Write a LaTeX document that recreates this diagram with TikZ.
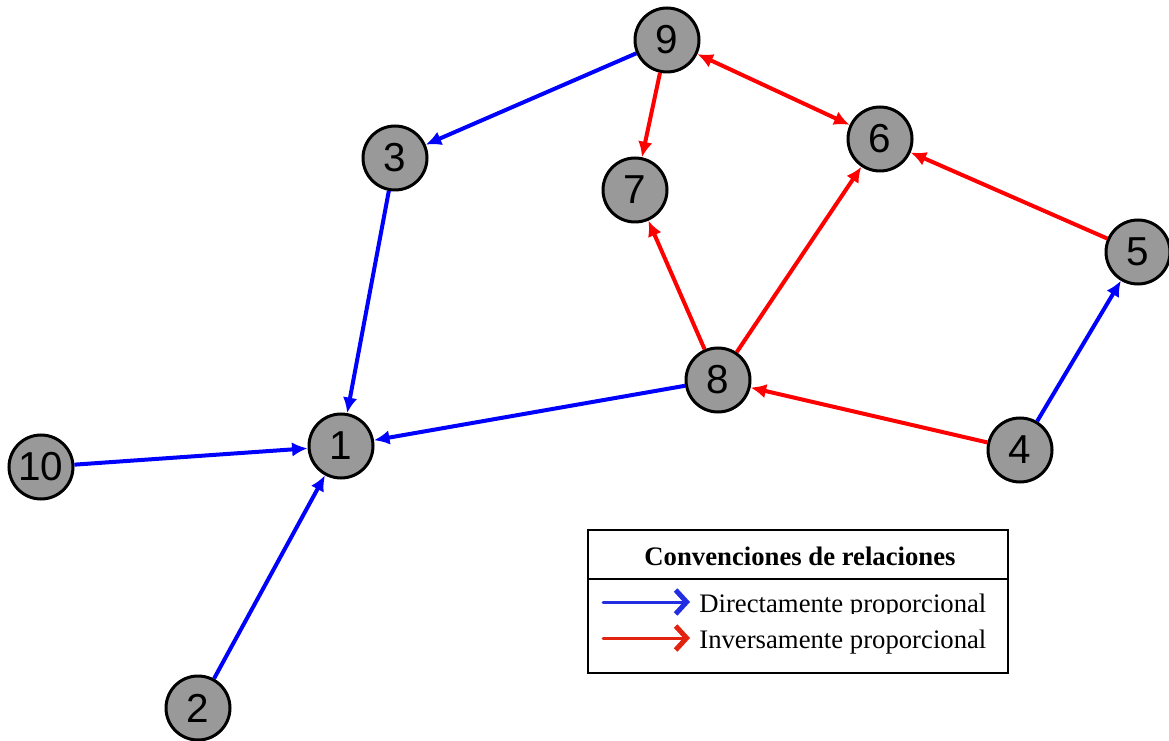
\documentclass[tikz,border=0pt]{standalone}
\usepackage{fontspec}
\setmainfont{Liberation Serif}
\setsansfont{Liberation Sans}
\usetikzlibrary{arrows.meta, positioning}

\definecolor{legblue}{RGB}{35,45,225}
\definecolor{legred}{RGB}{225,35,15}

\begin{document}
\begin{tikzpicture}[
        var/.style={draw, circle, line width=0.06cm, fill=black!40, minimum size=1.28cm, inner sep=0pt, font=\sffamily\fontsize{23}{26}\selectfont},
        direct/.style={-{Latex[length=3.1mm,width=2.9mm]}, line width=0.08cm, blue},
        inverse/.style={-{Latex[length=3.1mm,width=2.9mm]}, line width=0.08cm, red},
        legarrow/.style={-{Straight Barb[length=2.2mm,width=4.8mm,line width=0.1cm]}, line width=0.06cm, line cap=round}
    ]
        \useasboundingbox (0,0) rectangle (23.38,14.8);

        % Variables
        \node[var] (v9) at (13.34,14.0) {9};
        \node[var] (v3) at (7.90,11.64) {3};
        \node[var] (v7) at (12.70,11.0) {7};
        \node[var] (v6) at (17.60,12.02) {6};
        \node[var] (v5) at (22.76,9.76) {5};
        \node[var] (v8) at (14.36,7.20) {8};
        \node[var] (v4) at (20.40,5.80) {4};
        \node[var] (v1) at (6.82,5.88) {1};
        \node[var] (v10) at (0.82,5.46) {10};
        \node[var] (v2) at (3.96,0.64) {2};

        % Relations
        \draw[direct] (v9) -- (v3);
        \draw[direct] (v3) -- (v1);
        \draw[direct] (v10) -- (v1);
        \draw[direct] (v2) -- (v1);
        \draw[direct] (v8) -- (v1);
        \draw[direct] (v4) -- (v5);
        \draw[inverse] (v9) -- (v7);
        \draw[inverse, {Latex[length=3.1mm,width=2.9mm]}-{Latex[length=3.1mm,width=2.9mm]}] (v9) -- (v6);
        \draw[inverse] (v5) -- (v6);
        \draw[inverse] (v8) -- (v7);
        \draw[inverse] (v8) -- (v6);
        \draw[inverse] (v4) -- (v8);

        % Legend
        \draw[line width=0.05cm] (11.76,1.34) rectangle (20.16,4.2);
        \draw[line width=0.05cm] (11.76,3.22) -- (20.16,3.22);
        \node[font=\bfseries\fontsize{15.2}{18}\selectfont] (legtitle) at (16.0,3.68) {Convenciones de relaciones};
        \coordinate (dstart) at (12.06,2.76);
        \coordinate (dend) at (13.80,2.76);
        \coordinate (istart) at (12.06,2.04);
        \coordinate (iend) at (13.80,2.04);
        \draw[legarrow, legblue] (dstart) -- (dend);
        \draw[legarrow, legred] (istart) -- (iend);
        \begin{scope}
            \clip (13.8,2.54) rectangle (20.1,3.2);
            \node[anchor=base west, inner sep=0pt, font=\fontsize{15.2}{18}\selectfont] (dtext) at (13.98,2.56) {Directamente proporcional};
        \end{scope}
        \node[anchor=base west, inner sep=0pt, font=\fontsize{15.2}{18}\selectfont] (itext) at (13.98,1.84) {Inversamente proporcional};

    \end{tikzpicture}
\end{document}
